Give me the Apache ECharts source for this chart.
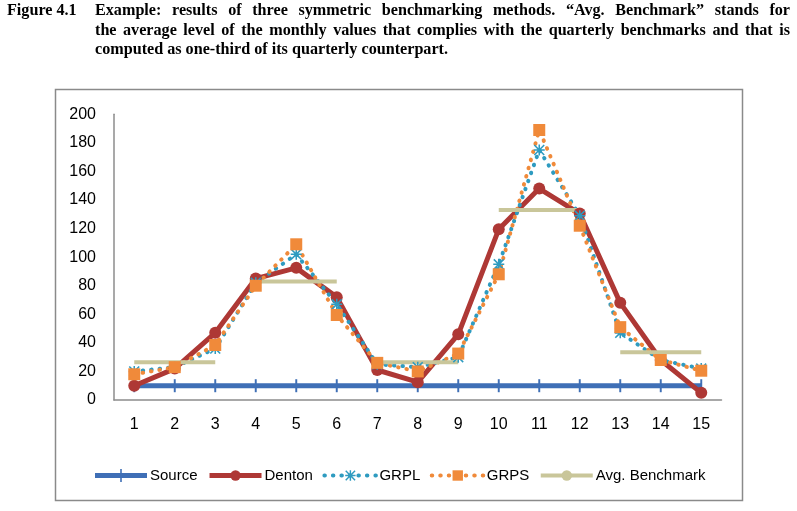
<!DOCTYPE html>
<html><head><meta charset="utf-8">
<script src="https://cdn.jsdelivr.net/npm/echarts@6/dist/echarts.min.js"></script>
<style>html,body{margin:0;padding:0;background:#fff}#c{width:797px;height:511px}</style>
</head><body><div id="c"></div>
<script>
const categories = ['1','2','3','4','5','6','7','8','9','10','11','12','13','14','15'];
const source = [10,10,10,10,10,10,10,10,10,10,10,10,10,10,10];
const denton = [10,22,47,85,92.5,72,21,12.5,46,119.5,148,130.5,68,28,5];
const grpl = [20,23,36,82,102,67,25,23,30,95,175,129,47,28,22];
const grps = [18,23,38.5,80,109,59.5,26,20,32.5,88,189,122,51,28,20.5];
const avgBenchmark = [26.5,83,26.5,133,33.5];
const yTicks = [0,200,20];
const figLabel = 'Figure 4.1';
const titleLines = [
  'Example: results of three symmetric benchmarking methods. \u201CAvg. Benchmark\u201D stands for',
  'the average level of the monthly values that complies with the quarterly benchmarks and that is',
  'computed as one-third of its quarterly counterpart.'
];

const avgData = [];
avgBenchmark.forEach((b, q) => {
  avgData.push([q*3, b]); avgData.push([q*3+2, b]); avgData.push([q*3+2, '-']);
});

// ---- title layout (justified serif, hanging indent) ----
const TF = 'bold 17px "Liberation Serif"';
const SX = 0.95;
const cv = document.createElement('canvas').getContext('2d');
cv.font = TF;
const mw = t => cv.measureText(t).width * SX;
const indent = 95, rightEdge = 790, lineY = [11, 31, 50];
const titleGraphics = [];
function addText(t, x, y) {
  titleGraphics.push({type:'text', x:x, y:y, scaleX:SX, style:{text:t, font:TF, fill:'#000', verticalAlign:'middle'}});
}
addText(figLabel, 7, lineY[0]);
titleLines.forEach((line, i) => {
  if (i === titleLines.length - 1) { addText(line, indent, lineY[i]); return; }
  const words = line.split(' ');
  const total = words.reduce((s, w) => s + mw(w), 0);
  const gap = (rightEdge - indent - total) / (words.length - 1);
  let x = indent;
  words.forEach(w => { addText(w, x, lineY[i]); x += mw(w) + gap; });
});

const asterisk = 'path://M4.3,0H5.7V10H4.3Z M0,4.3H10V5.7H0Z M1,0L5,4L9,0L10,1L6,5L10,9L9,10L5,6L1,10L0,9L4,5L0,1Z';
const tick = 'path://M0,0H1.5V10H0Z';
const sourceIcon = 'path://M0,4H52V9H0Z M25.2,0H26.8V13H25.2Z';

const chart = echarts.init(document.getElementById('c'));
chart.setOption({
  animation: false,
  graphic: [
    {type:'rect', shape:{x:55.5,y:89.5,width:687,height:411}, style:{fill:'none', stroke:'#8a8a8a', lineWidth:1.5}, z:-1}
  ].concat(titleGraphics),
  grid: {left:114, right:797-721.5, top:114.3, bottom:111, containLabel:false},
  xAxis: {
    type:'category', data:categories, boundaryGap:true,
    axisLine:{lineStyle:{color:'#8c8c8c', width:1.5}},
    axisTick:{show:false},
    axisLabel:{color:'#000', fontSize:16, fontFamily:'Liberation Sans', margin:17}
  },
  yAxis: {
    type:'value', min:yTicks[0], max:yTicks[1], interval:yTicks[2],
    axisLine:{show:true, lineStyle:{color:'#8c8c8c', width:1.5}},
    axisTick:{show:false}, splitLine:{show:false},
    axisLabel:{color:'#000', fontSize:16, fontFamily:'Liberation Sans', margin:18}
  },
  legend: {
    left:90, top:463, itemWidth:52, itemHeight:13, itemGap:9.5,
    lineStyle:{width:'inherit'},
    textStyle:{color:'#000', fontSize:15, fontFamily:'Liberation Sans', padding:[0,0,0,-2]},
    data:[{name:'Source', icon:sourceIcon}, 'Denton', 'GRPL', 'GRPS', 'Avg. Benchmark']
  },
  series: [
    {name:'Source', type:'line', data:source, symbol:tick, symbolSize:13, symbolKeepAspect:true, showSymbol:true,
     lineStyle:{color:'#3F6FB6', width:5}, itemStyle:{color:'#3F6FB6'}},
    {name:'Denton', type:'line', data:denton, symbol:'circle', symbolSize:12,
     lineStyle:{color:'#AE3835', width:5}, itemStyle:{color:'#AE3835'}},
    {name:'GRPL', type:'line', data:grpl, symbol:asterisk, symbolSize:11,
     lineStyle:{color:'#2E9BC0', width:4, type:[0.5,8], cap:'round'}, itemStyle:{color:'#2E9BC0'}},
    {name:'GRPS', type:'line', data:grps, symbol:'rect', symbolSize:12,
     lineStyle:{color:'#F08A3A', width:4, type:[0.5,8], cap:'round'}, itemStyle:{color:'#F08A3A'}},
    {name:'Avg. Benchmark', type:'line', data:avgData, showSymbol:false, symbol:'none',
     lineStyle:{color:'#C9C69A', width:4}, itemStyle:{color:'#C9C69A'}}
  ]
});
</script></body></html>
